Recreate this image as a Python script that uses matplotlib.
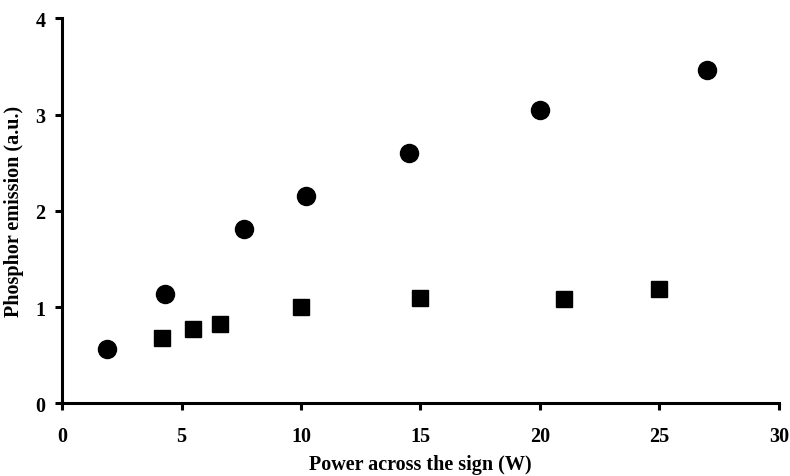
import matplotlib
matplotlib.use("Agg")
import matplotlib.pyplot as plt

# Data
circle_power = [1.9, 4.3, 7.6, 10.2, 14.5, 20.0, 27.0]
circle_emission = [0.57, 1.14, 1.81, 2.15, 2.60, 3.05, 3.46]
square_power = [4.2, 5.5, 6.6, 10.0, 15.0, 21.0, 25.0]
square_emission = [0.68, 0.77, 0.83, 1.00, 1.10, 1.09, 1.19]

plt.rcParams['font.family'] = ['Liberation Serif', 'DejaVu Serif']
plt.rcParams['font.weight'] = 'bold'

fig = plt.figure(figsize=(7.9, 4.77), dpi=100)
ax = fig.add_axes([0.0785, 0.152, 0.9075, 0.8075])

ax.plot(circle_power, circle_emission, 'o', color='black', markersize=13, linestyle='none')
ax.plot(square_power, square_emission, 's', color='black', markersize=12, linestyle='none')

ax.set_xlim(0, 30)
ax.set_ylim(0, 4)
ax.set_xticks([0, 5, 10, 15, 20, 25, 30])
ax.set_yticks([0, 1, 2, 3, 4])

for side in ['top', 'right']:
    ax.spines[side].set_visible(False)
for side in ['left', 'bottom']:
    ax.spines[side].set_linewidth(2.2)

ax.tick_params(direction='out', length=5, width=2.2, labelsize=14.5, pad=11)
ax.tick_params(axis='y', pad=7)

ax.set_xlabel("Power across the sign (W)", fontsize=14.5, fontweight='bold', labelpad=6)
ax.set_ylabel("Phosphor emission (a.u.)", fontsize=14.5, fontweight='bold', labelpad=8)

fig.savefig("out.png", dpi=100)
